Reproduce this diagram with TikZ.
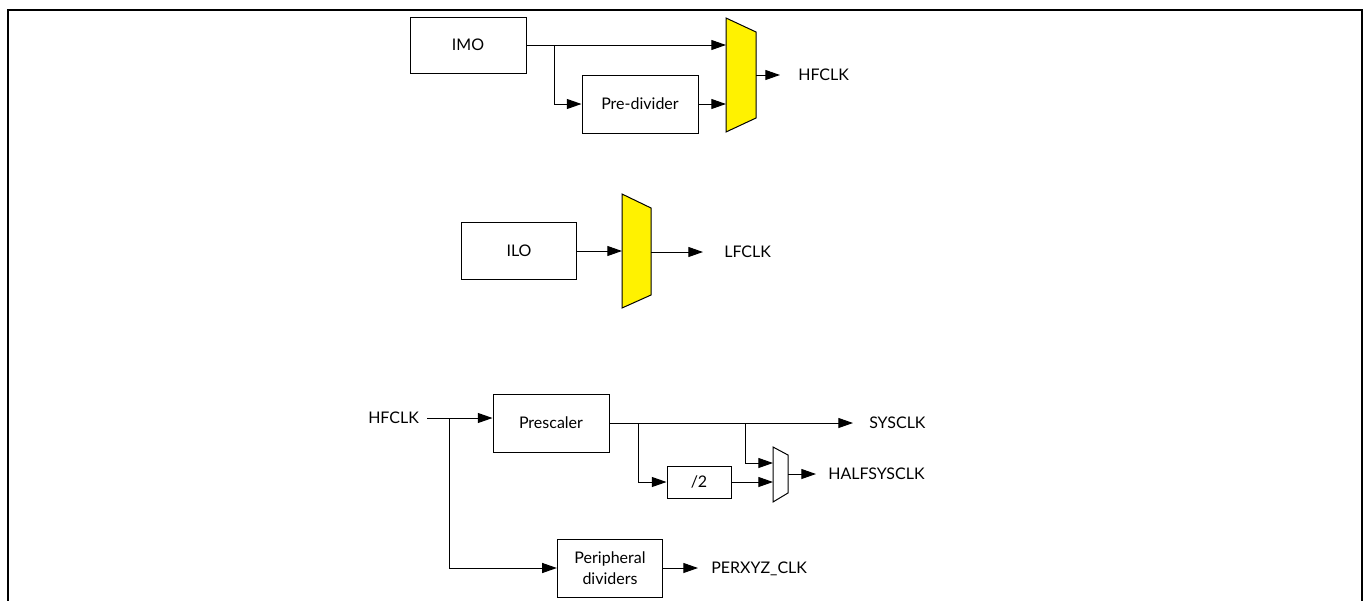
\documentclass[tikz,border=0pt]{standalone}
\usepackage{fontspec}
\setmainfont{Lato}
\usetikzlibrary{arrows.meta}
\begin{document}
\begin{tikzpicture}[x=0.75pt,y=-0.75pt,
  font=\fontsize{12}{15.5}\selectfont,
  box/.style={draw,line width=0.75pt,inner sep=0pt,align=center},
  lbl/.style={inner sep=0pt,anchor=west,text height=8.6pt,text depth=0pt},
  wire/.style={line width=0.75pt},
  arr/.style={wire,-{Triangle[length=11pt,width=7.5pt]}},
  muxfill/.style={draw,line width=0.75pt,fill=yellow},
  muxplain/.style={draw,line width=0.75pt,fill=white}]
\useasboundingbox (0,0) rectangle (1367,600);
% frame
\draw[line width=2pt] (8,610) -- (8,10) -- (1362,10) -- (1362,610);

% ---------- top: HFCLK mux ----------
\node[box,minimum width=87pt,minimum height=42pt] (imo) at (468,45) {IMO};
\node[box,minimum width=87pt,minimum height=43.5pt] (pdv) at (640,104) {Pre-divider};
\draw[muxfill] (726,18) -- (756,32) -- (756,118) -- (726,132) -- cycle;
\coordinate (m1a) at (726,45);
\coordinate (m1b) at (726,104);
\coordinate (m1o) at (756,75);
\coordinate (br1) at (554,45);
\node[lbl] (hfclk1) at (798,75) {HFCLK};
\draw[arr] (imo.east) -- (m1a);
\draw[arr] (br1) |- (pdv.west);
\draw[arr] (pdv.east) -- (m1b);
\draw[arr] (m1o) -- ([xshift=-13.5pt]hfclk1.west);

% ---------- middle: LFCLK mux ----------
\node[box,minimum width=86pt,minimum height=43pt] (ilo) at (519,251) {ILO};
\draw[muxfill] (622,194) -- (651,208) -- (651,295) -- (622,308) -- cycle;
\coordinate (m2a) at (622,251);
\coordinate (m2o) at (651,252);
\node[lbl] (lfclk) at (724,252) {LFCLK};
\draw[arr] (ilo.east) -- (m2a);
\draw[arr] (m2o) -- ([xshift=-15.75pt]lfclk.west);

% ---------- bottom: clock tree ----------
\node[lbl] (hfin) at (368,418) {HFCLK};
\node[box,minimum width=87pt,minimum height=43.5pt] (psc) at (551,423) {Prescaler};
\node[box,minimum width=48pt,minimum height=24pt] (div2) at (699,482) {/2};
\node[box,minimum width=79pt,minimum height=43.5pt] (pdiv) at (610,568) {Peripheral\\dividers};
\draw[muxplain] (773,447) -- (788,455) -- (788,493) -- (773,502) -- cycle;
\coordinate (m3a) at (773,463);
\coordinate (m3b) at (773,482);
\coordinate (m3o) at (788,474);
\coordinate (hfs) at (427,418);
\coordinate (br2) at (449,418);
\coordinate (br3) at (638,423);
\coordinate (br4) at (745,423);
\node[lbl] (sysclk) at (869,423) {SYSCLK};
\node[lbl] (halfsys) at (828,474) {HALFSYSCLK};
\node[lbl] (perxyz) at (711,568) {PERXYZ\_CLK};

\draw[arr] (hfs) -- (hfs -| psc.west);
\draw[arr] (br2) |- (pdiv.west);
\draw[arr] (psc.east) -- ([xshift=-12pt]sysclk.west);
\draw[arr] (br3) |- (div2.west);
\draw[arr] (br4) |- (m3a);
\draw[arr] (div2.east) -- (m3b);
\draw[arr] (m3o) -- ([xshift=-9pt]halfsys.west);
\draw[arr] (pdiv.east) -- ([xshift=-9.75pt]perxyz.west);
\end{tikzpicture}
\end{document}
